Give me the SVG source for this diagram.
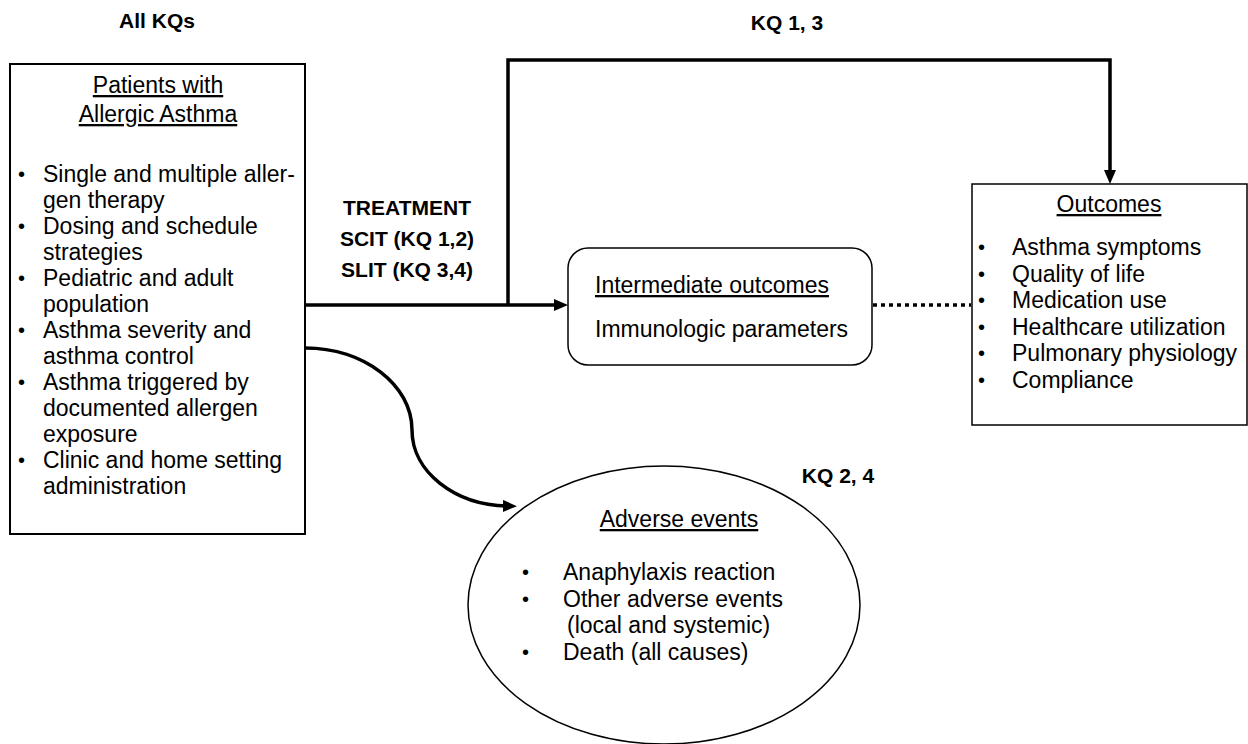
<svg xmlns="http://www.w3.org/2000/svg" width="1248" height="744" viewBox="0 0 1248 744">
<style>
text{font-family:"Liberation Sans",Arial,sans-serif;fill:#000}
.b{font-size:23px}
.d{font-size:20px}
.h{font-size:21px;font-weight:bold}
.c{text-anchor:middle}
.u{text-decoration:underline}
.box{fill:#fff;stroke:#000;stroke-width:2}
.thin{fill:#fff;stroke:#000;stroke-width:1.5}
.con{fill:none;stroke:#000;stroke-width:3.5}
</style>
<defs>
<marker id="ah" markerUnits="userSpaceOnUse" markerWidth="14" markerHeight="12" viewBox="0 0 14 12" refX="4" refY="6" orient="auto">
<path d="M0,0 L14,6 L0,12 z" fill="#000"/>
</marker>
</defs>
<rect width="1248" height="744" fill="#fff"/>
<g id="labels">
<text class="h c" x="157" y="28">All KQs</text>
<text class="h c" x="787" y="30">KQ 1, 3</text>
<text class="h c" x="838" y="483">KQ 2, 4</text>
<text class="h c" x="407" y="215">TREATMENT</text>
<text class="h c" x="407" y="246">SCIT (KQ 1,2)</text>
<text class="h c" x="407" y="277">SLIT (KQ 3,4)</text>
</g>
<g id="connectors">
<path class="con" d="M305,305 H558" marker-end="url(#ah)"/>
<path class="con" d="M508,305 V60 H1110 V174" marker-end="url(#ah)"/>
<path class="con" d="M305,348 C364,348 412,385 412,430 C412,472 455,505 507,506" marker-end="url(#ah)"/>
<path d="M873,305 H971" fill="none" stroke="#000" stroke-width="3.5" stroke-dasharray="4 4"/>
</g>
<g id="patients">
<rect class="box" x="10" y="64" width="295" height="470"/>
<text class="b c u" x="158" y="93">Patients with</text>
<text class="b c u" x="158" y="122">Allergic Asthma</text>
<g class="d">
<text x="18" y="181">•</text>
<text x="18" y="233">•</text>
<text x="18" y="285">•</text>
<text x="18" y="337">•</text>
<text x="18" y="389">•</text>
<text x="18" y="467">•</text>
</g>
<g class="b">
<text x="43" y="182">Single and multiple aller-</text>
<text x="43" y="208">gen therapy</text>
<text x="43" y="234">Dosing and schedule</text>
<text x="43" y="260">strategies</text>
<text x="43" y="286">Pediatric and adult</text>
<text x="43" y="312">population</text>
<text x="43" y="338">Asthma severity and</text>
<text x="43" y="364">asthma control</text>
<text x="43" y="390">Asthma triggered by</text>
<text x="43" y="416">documented allergen</text>
<text x="43" y="442">exposure</text>
<text x="43" y="468">Clinic and home setting</text>
<text x="43" y="494">administration</text>
</g>
</g>
<g id="intermediate">
<rect class="thin" x="568" y="248" width="304" height="117" rx="20" ry="20"/>
<text class="b u" x="595" y="293">Intermediate outcomes</text>
<text class="b" x="595" y="337">Immunologic parameters</text>
</g>
<g id="outcomes">
<rect class="thin" x="972" y="184" width="275" height="241"/>
<text class="b c u" x="1109" y="212">Outcomes</text>
<g class="d">
<text x="978" y="254">•</text>
<text x="978" y="280.5">•</text>
<text x="978" y="307">•</text>
<text x="978" y="333.5">•</text>
<text x="978" y="360">•</text>
<text x="978" y="387">•</text>
</g>
<g class="b">
<text x="1012" y="255">Asthma symptoms</text>
<text x="1012" y="281.5">Quality of life</text>
<text x="1012" y="308">Medication use</text>
<text x="1012" y="334.5">Healthcare utilization</text>
<text x="1012" y="361">Pulmonary physiology</text>
<text x="1012" y="388">Compliance</text>
</g>
</g>
<g id="adverse">
<ellipse class="thin" cx="664" cy="605" rx="196" ry="139"/>
<text class="b c u" x="679" y="527">Adverse events</text>
<g class="d">
<text x="522" y="579">•</text>
<text x="522" y="606">•</text>
<text x="522" y="659">•</text>
</g>
<g class="b">
<text x="563" y="580">Anaphylaxis reaction</text>
<text x="563" y="607">Other adverse events</text>
<text x="567" y="633">(local and systemic)</text>
<text x="563" y="660">Death (all causes)</text>
</g>
</g>
</svg>
